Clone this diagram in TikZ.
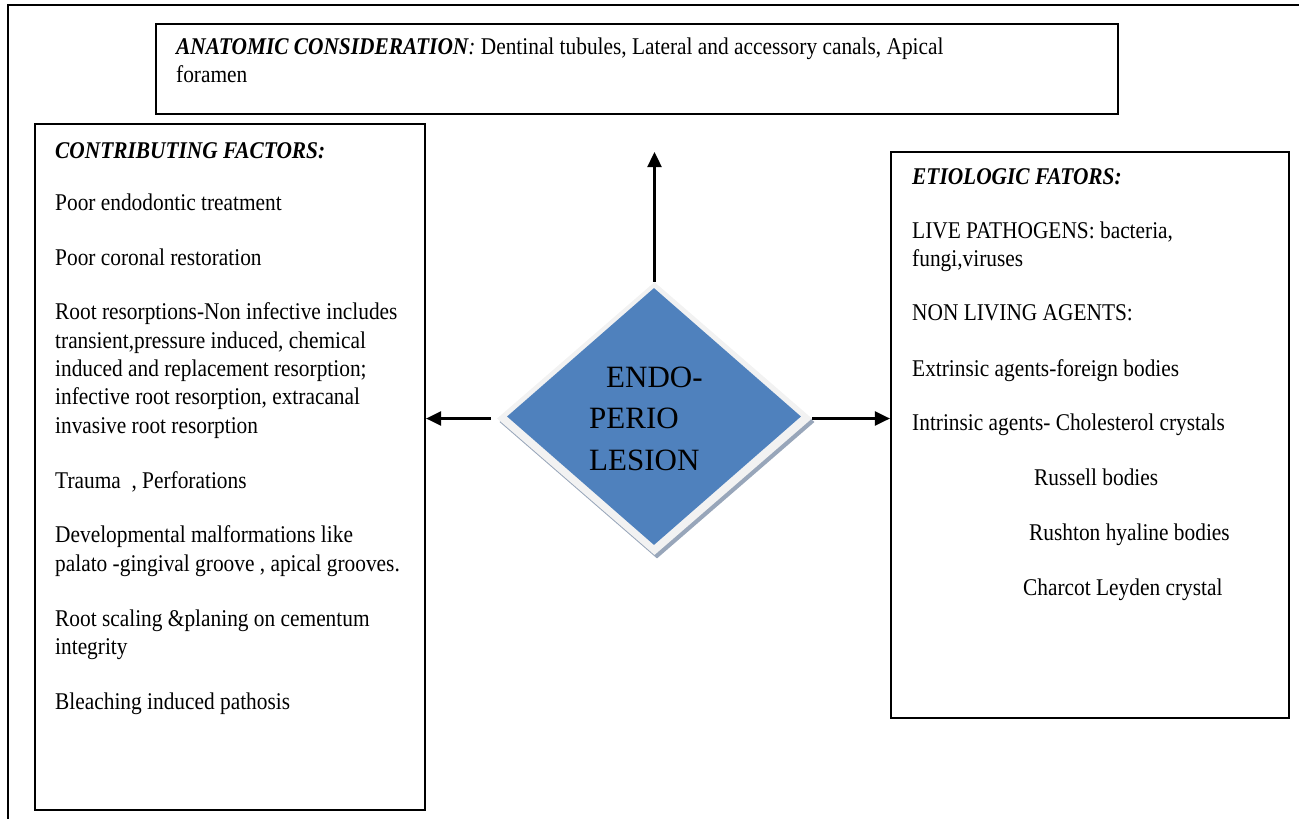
\documentclass[tikz,border=0pt]{standalone}
\usepackage{fontspec}
\setmainfont{Liberation Serif}[FakeStretch=0.89]
\newfontfamily\lesionfont{Liberation Serif}
\usetikzlibrary{arrows.meta,shapes}
\definecolor{lesionblue}{HTML}{4F81BD}
\definecolor{lesionrim}{HTML}{F2F2F2}
\definecolor{lesionshade}{HTML}{98A6BA}
\tikzset{
  box/.style={draw=black, line width=2.2pt, rectangle, inner sep=0pt},
  txt/.style={anchor=base west, inner sep=0pt, font=\fontsize{24}{28}\selectfont},
  head/.style={txt, font=\fontsize{24}{28}\selectfont\bfseries\itshape},
  bigtxt/.style={anchor=base west, inner sep=0pt, font=\lesionfont\fontsize{31}{41}\selectfont},
  rhomb/.style={diamond, inner sep=0pt},
  link/.style={-{Triangle[length=15pt,width=14pt]}, line width=2.4pt},
}

\begin{document}
\begin{tikzpicture}[x=1pt,y=-1pt]
\useasboundingbox (0,0) rectangle (1299,819);
% page frame
\draw[line width=2.6pt] (1299,5) -- (8,5) -- (8,819);

% boxes
\node[box, minimum width=962, minimum height=90] (anat) at (637,69) {};
\node[box, minimum width=390, minimum height=686] (contrib) at (230,467) {};
\node[box, minimum width=398, minimum height=566] (etiol) at (1090,435) {};

% lesion diamond
\node[rhomb, fill=lesionshade, minimum width=315, minimum height=273] (lesionshadow) at (657,422) {};
\node[rhomb, fill=lesionrim, minimum width=315, minimum height=273] (lesion) at (654.5,418.5) {};
\node[rhomb, fill=lesionblue, minimum width=294, minimum height=257] (lesioncore) at (654,416.5) {};
\node[bigtxt] (dt1) at (606,387) {ENDO-};
\node[bigtxt] (dt2) at (589,428) {PERIO};
\node[bigtxt] (dt3) at (589,470) {LESION};

% arrows
\coordinate (upend) at (654.5,152);
\draw[link] (lesion.north) -- (upend);
\draw[link, shorten <=6pt] (lesion.west) -- (lesion.west -| contrib.east);
\draw[link] (lesion.east) -- (lesion.east -| etiol.west);

% anatomic
\node[txt] (an1) at (176,54) {{\bfseries\itshape ANATOMIC CONSIDERATION}{\itshape :} Dentinal tubules, Lateral and accessory canals, Apical};
\node[txt] (an2) at (176,82) {foramen};

% contributing factors
\node[head] (cf0) at (55,158) {CONTRIBUTING FACTORS:};
\node[txt] (cf1) at (55,210) {Poor endodontic treatment};
\node[txt] (cf2) at (55,265) {Poor coronal restoration};
\node[txt] (cf3a) at (55,319) {Root resorptions-Non infective includes};
\node[txt] (cf3b) at (55,348) {transient,pressure induced, chemical};
\node[txt] (cf3c) at (55,376) {induced and replacement resorption;};
\node[txt] (cf3d) at (55,404) {infective root resorption, extracanal};
\node[txt] (cf3e) at (55,433) {invasive root resorption};
\node[txt] (cf4) at (55,488) {Trauma\ \ , Perforations};
\node[txt] (cf5a) at (55,542) {Developmental malformations like};
\node[txt] (cf5b) at (55,571) {palato -gingival groove , apical grooves.};
\node[txt] (cf6a) at (55,626) {Root scaling \&planing on cementum};
\node[txt] (cf6b) at (55,654) {integrity};
\node[txt] (cf7) at (55,709) {Bleaching induced pathosis};

% etiologic factors
\node[head] (ef0) at (912,184) {ETIOLOGIC FATORS:};
\node[txt] (ef1a) at (912,238) {LIVE PATHOGENS: bacteria,};
\node[txt] (ef1b) at (912,266) {fungi,viruses};
\node[txt] (ef2) at (912,320) {NON LIVING AGENTS:};
\node[txt] (ef3) at (912,376) {Extrinsic agents-foreign bodies};
\node[txt] (ef4) at (912,430) {Intrinsic agents- Cholesterol crystals};
\node[txt] (ef5) at (1034,485) {Russell bodies};
\node[txt] (ef6) at (1029,540) {Rushton hyaline bodies};
\node[txt] (ef7) at (1023,595) {Charcot Leyden crystal};
\end{tikzpicture}
\end{document}
